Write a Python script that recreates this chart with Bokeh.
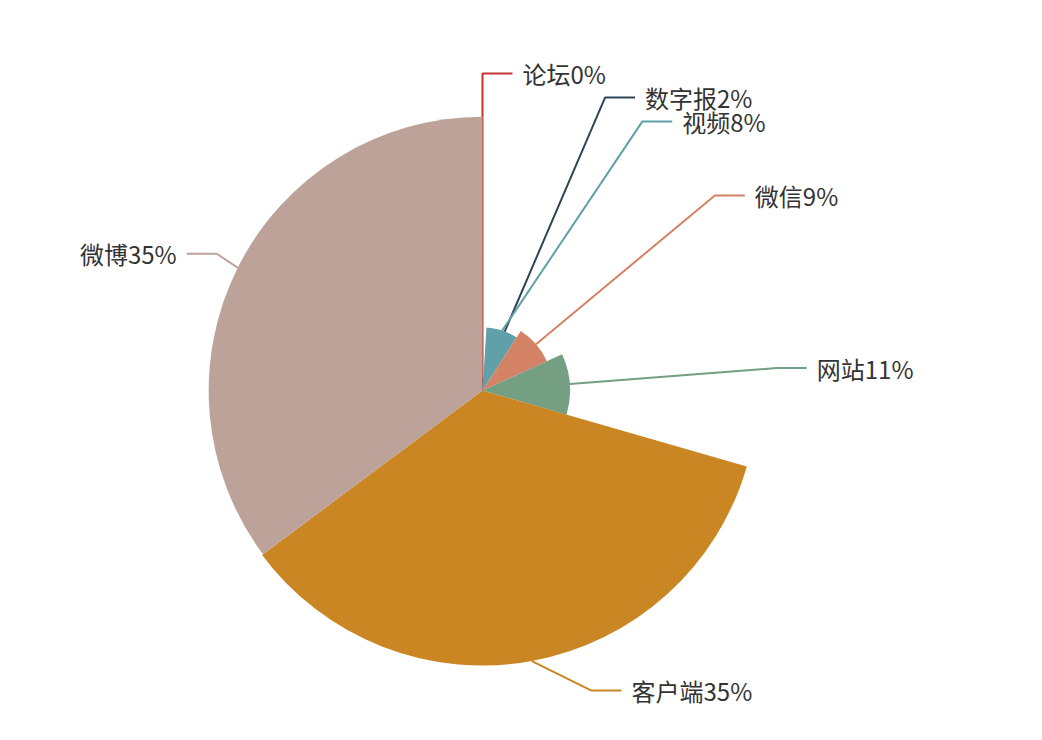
import math
from bokeh.plotting import figure
from bokeh.models import ColumnDataSource, Range1d
from bokeh.embed import file_html
from bokeh.resources import INLINE
from bokeh.core.properties import value

# ---- data ----
names = ["论坛", "数字报", "视频", "微信", "网站", "客户端", "微博"]
values = [0, 1.0, 8.1, 9.1, 11.25, 35.35, 35.2]
pct_labels = ["0%", "2%", "8%", "9%", "11%", "35%", "35%"]
colors = ["#c23531", "#2f4554", "#61a0a8", "#d48265", "#749f83", "#ca8622", "#bda29a"]

# ---- layout constants (screen pixels) ----
W, H = 1026, 724
CX, CY = 482, 390
R_MAX = 275
LEN1, LEN2, GAP = 30, 30, 10
LABEL_H = 24
VIEW_TOP, VIEW_H = 0, 740

total = float(sum(values))
vmin, vmax = min(values), max(values)

# sector geometry (angles clockwise from 12 o'clock)
theta_s, theta_e, radii = [], [], []
acc = 0.0
for v in values:
    a0 = acc / total * 2 * math.pi
    acc += v
    a1 = acc / total * 2 * math.pi
    theta_s.append(a0)
    theta_e.append(a1)
    radii.append((v - vmin) / (vmax - vmin) * R_MAX)

# ---- label layout (rose-pie style with overlap shifting) ----
items = []
for i in range(len(values)):
    mid = (theta_s[i] + theta_e[i]) / 2
    dx, dy = math.sin(mid), -math.cos(mid)
    d = 1 if dx >= -1e-9 else -1
    x1 = CX + radii[i] * dx
    y1 = CY + radii[i] * dy
    x2 = CX + (R_MAX + LEN1) * dx
    y2 = CY + (R_MAX + LEN1) * dy
    x3 = x2 + d * LEN2
    items.append(dict(i=i, x1=x1, y1=y1, x=x3 + d * GAP, y=y2, d=d))


def change_x(lst, is_down, d):
    last = float("inf") if is_down else 0.0
    for it in lst:
        dY = abs(it["y"] - CY)
        if dY < R_MAX + LEN1:
            dX = math.sqrt((R_MAX + LEN1 + LEN2) ** 2 - dY ** 2)
        else:
            dX = abs(it["x"] - CX)
        if is_down and dX >= last:
            dX = last - 10
        if (not is_down) and dX <= last:
            dX = last + 10
        it["x"] = CX + dX * d
        last = dX


def adjust_side(lst, d):
    lst.sort(key=lambda it: it["y"])
    n = len(lst)

    def shift_up(end, delta):
        for j in range(end, -1, -1):
            if lst[j]["y"] - delta < VIEW_TOP:
                break
            lst[j]["y"] -= delta
            if j > 0 and lst[j]["y"] > lst[j - 1]["y"] + LABEL_H:
                break

    def shift_down(start, end, delta):
        for j in range(start, end):
            if lst[j]["y"] + delta > VIEW_TOP + VIEW_H:
                break
            lst[j]["y"] += delta
            if j > start and j + 1 < end and lst[j + 1]["y"] > lst[j]["y"] + LABEL_H:
                shift_up(j, delta / 2)
                return
        shift_up(end - 1, delta / 2)

    last_y = 0
    for i in range(n):
        delta = lst[i]["y"] - last_y
        if delta < 0:
            shift_down(i, n, -delta)
        last_y = lst[i]["y"] + LABEL_H
    if VIEW_H - last_y < 0:
        shift_up(n - 1, last_y - VIEW_H)
    up = [it for it in lst if it["y"] < CY]
    down = [it for it in lst if it["y"] >= CY]
    change_x(up, False, d)
    change_x(down, True, d)


right = [it for it in items if it["d"] > 0]
left = [it for it in items if it["d"] < 0]
adjust_side(right, 1)
adjust_side(left, -1)

# ---- figure ----
p = figure(width=W, height=H, output_backend="svg", toolbar_location=None,
           x_range=Range1d(0, W), y_range=Range1d(-H, 0),
           x_axis_location=None, y_axis_location=None, min_border=0)
p.outline_line_color = None
p.xgrid.visible = False
p.ygrid.visible = False
p.background_fill_color = "white"

font = value("Noto Sans CJK SC")

# each piece: sector then its label line (later sectors cover earlier lines)
for it in sorted(items, key=lambda k: k["i"]):
    i = it["i"]
    d = it["d"]
    p.wedge(x=[CX], y=[-CY], radius=[radii[i]],
            start_angle=[math.pi / 2 - theta_e[i]], end_angle=[math.pi / 2 - theta_s[i]],
            direction="anticlock", fill_color=colors[i], line_color=None)
    x3 = it["x"] - GAP * d
    x2 = x3 - LEN2 * d
    p.line(x=[it["x1"], x2, x3], y=[-it["y1"], -it["y"], -it["y"]],
           line_color=colors[i], line_width=2)

rt = dict(x=[], y=[], t=[])
lt = dict(x=[], y=[], t=[])
for it in sorted(items, key=lambda k: k["i"]):
    tgt = rt if it["d"] > 0 else lt
    tgt["x"].append(it["x"])
    tgt["y"].append(-it["y"])
    tgt["t"].append(names[it["i"]] + pct_labels[it["i"]])

p.text(x=rt["x"], y=rt["y"], text=rt["t"], text_align="left", text_baseline="middle",
       text_font=font, text_font_size="24px", text_color="#333333")
p.text(x=lt["x"], y=lt["y"], text=lt["t"], text_align="right", text_baseline="middle",
       text_font=font, text_font_size="24px", text_color="#333333")

open("out.html", "w").write(file_html(p, INLINE))
